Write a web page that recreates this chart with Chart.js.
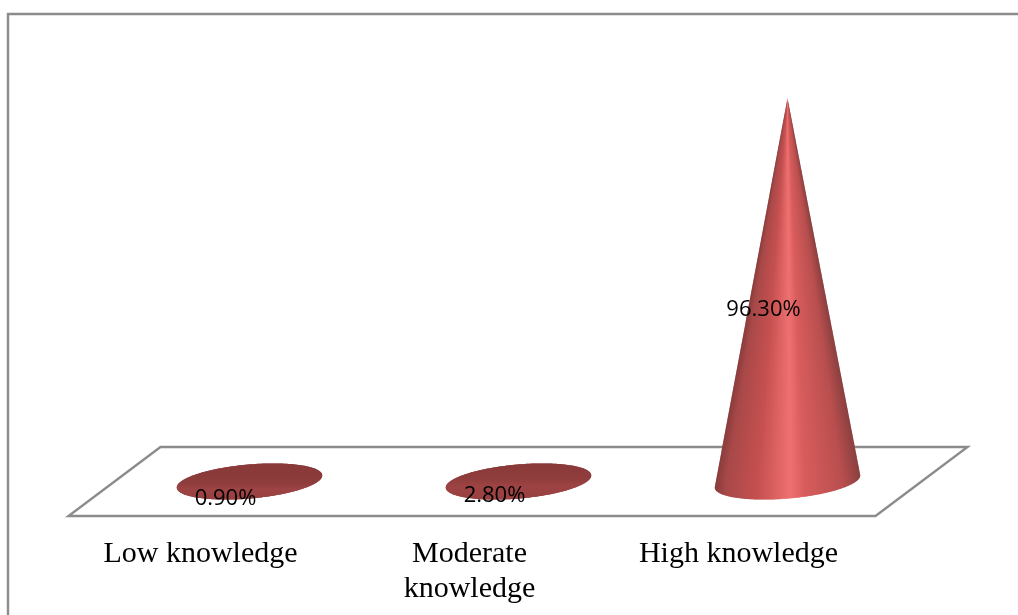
<!DOCTYPE html>
<html>
<head>
<meta charset="utf-8">
<title>Knowledge level</title>
<script src="https://cdn.jsdelivr.net/npm/chart.js@4"></script>
<style>
  html, body { margin: 0; padding: 0; background: #fff; }
  canvas { display: block; }
</style>
</head>
<body>
<canvas id="grafico" width="1018" height="615"></canvas>
<script>
const categorias = [['Low knowledge'], ['Moderate', 'knowledge'], ['High knowledge']];
const valores = [0.9, 2.8, 96.3];
const rotulos = ['0.90%', '2.80%', '96.30%'];

// 3D look: how far the floor goes back, in pixels
const fundoX = 92;
const fundoY = 69;
const cinza = '#8c8c8c';

// colours across the cone, left to right
const paradas = [
  [0, '#863a3a'], [0.08, '#a84848'], [0.3, '#c65050'],
  [0.52, '#f07070'], [0.62, '#d85c5c'], [0.88, '#b84e4e'], [1, '#8c4040']
];

function desenhaCone(ctx, cx, cy, topo) {
  const rx = 73, ry = 17, giro = -5 * Math.PI / 180;
  const n = 180;
  const pts = [];
  for (let i = 0; i < n; i++) {
    const th = i / n * Math.PI * 2;
    const ex = rx * Math.cos(th), ey = ry * Math.sin(th);
    pts.push({
      x: cx + ex * Math.cos(giro) - ey * Math.sin(giro),
      y: cy + ex * Math.sin(giro) + ey * Math.cos(giro)
    });
  }
  ctx.save();
  ctx.beginPath();
  if (cy - topo < ry) {
    // nearly flat: only the base shows
    pts.forEach((p, i) => i ? ctx.lineTo(p.x, p.y) : ctx.moveTo(p.x, p.y));
    ctx.closePath();
    ctx.fillStyle = '#923e3e';
    ctx.fill();
    ctx.clip();
    const g = ctx.createLinearGradient(0, topo - 3, 0, cy + ry);
    g.addColorStop(0, '#8b3a3a');
    g.addColorStop(0.35, '#8f3c3c');
    g.addColorStop(0.6, '#9e4343');
    g.addColorStop(1, '#984040');
    ctx.fillStyle = g;
    ctx.fillRect(cx - rx - 2, cy - ry - 8, rx * 2 + 4, ry * 2 + 16);
    ctx.restore();
    return;
  }
  // silhouette: apex plus the front arc between the two tangent points
  let dir = 0, esq = 0;
  pts.forEach((p, i) => {
    const m = (p.x - cx) / (p.y - topo);
    if (m > (pts[dir].x - cx) / (pts[dir].y - topo)) dir = i;
    if (m < (pts[esq].x - cx) / (pts[esq].y - topo)) esq = i;
  });
  ctx.moveTo(cx, topo);
  for (let i = dir; ; i = (i + 1) % n) {
    ctx.lineTo(pts[i].x, pts[i].y);
    if (i === esq) break;
  }
  ctx.closePath();
  ctx.clip();
  // one row at a time so the shading narrows towards the apex
  const fim = cy + ry + 4;
  for (let y = Math.floor(topo); y < fim; y++) {
    const w = Math.max(0.5, Math.min(rx, rx * (y - topo) / (cy - topo)));
    const g = ctx.createLinearGradient(cx - w, 0, cx + w, 0);
    paradas.forEach(p => g.addColorStop(p[0], p[1]));
    ctx.fillStyle = g;
    ctx.fillRect(cx - rx - 2, y, rx * 2 + 4, 1.5);
  }
  ctx.restore();
}

const cenario = {
  id: 'cenario',
  beforeDatasetsDraw(chart) {
    const { ctx, chartArea: area } = chart;
    ctx.save();
    ctx.strokeStyle = cinza;
    ctx.lineWidth = 2.4;
    // outer frame
    ctx.beginPath();
    ctx.moveTo(8, 615);
    ctx.lineTo(8, 14);
    ctx.lineTo(1018, 14);
    ctx.stroke();
    // floor
    ctx.beginPath();
    ctx.moveTo(area.left + 2.5, area.bottom);
    ctx.lineTo(area.right + 2.5, area.bottom);
    ctx.lineTo(area.right + 2.5 + fundoX, area.bottom - fundoY);
    ctx.lineTo(area.left + 2.5 + fundoX, area.bottom - fundoY);
    ctx.closePath();
    ctx.stroke();
    ctx.restore();
  },
  afterDatasetsDraw(chart) {
    const { ctx } = chart;
    const barras = chart.getDatasetMeta(0).data;
    barras.forEach(b => {
      desenhaCone(ctx, b.x + fundoX / 2 + 3, b.base - fundoY / 2, b.y - fundoY / 2);
    });
    ctx.save();
    ctx.fillStyle = '#000';
    ctx.font = '22px "Open Sans"';
    ctx.textAlign = 'center';
    ctx.textBaseline = 'middle';
    barras.forEach((b, i) => {
      ctx.fillText(rotulos[i], b.x + 25, (b.y + b.base) / 2 - 15);
    });
    ctx.restore();
  }
};

new Chart(document.getElementById('grafico'), {
  type: 'bar',
  data: {
    labels: categorias,
    datasets: [{
      data: valores,
      backgroundColor: 'transparent',
      borderWidth: 0
    }]
  },
  options: {
    responsive: false,
    animation: false,
    layout: { padding: { left: 66, right: 145, top: 118, bottom: 0 } },
    plugins: { legend: { display: false }, tooltip: { enabled: false } },
    scales: {
      y: { display: false, min: 0, max: 100 },
      x: {
        grid: { display: false, drawTicks: false },
        border: { display: false },
        afterFit(scale) { scale.height = 99; },
        ticks: {
          color: '#000',
          padding: 21,
          maxRotation: 0,
          autoSkip: false,
          font: { family: 'Liberation Serif', size: 30, lineHeight: 1.167 }
        }
      }
    }
  },
  plugins: [cenario]
});
</script>
</body>
</html>
